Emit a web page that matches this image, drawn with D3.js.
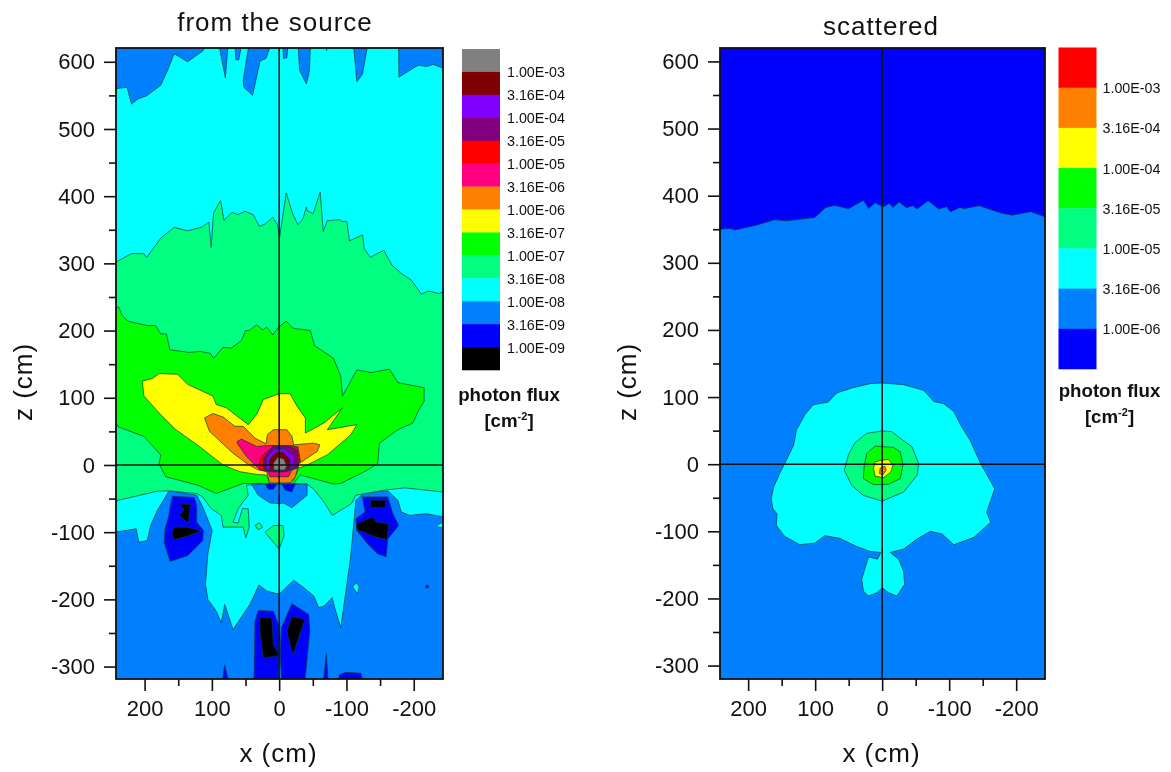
<!DOCTYPE html>
<html>
<head>
<meta charset="utf-8" />
<script src="https://d3js.org/d3.v7.min.js"></script>
<title>photon flux</title>
<style>
	html, body { margin: 0; padding: 0; background: #fff; }
	svg { display: block; filter: blur(0.5px); }
	text { font-family: "Liberation Sans", Arial, sans-serif; fill: #111; }
</style>
</head>
<body>
<div id="my_dataviz"></div>
<script>

// ticks
var xMajorTicks = [200, 100, 0, -100, -200];
var xMinorTicks = [150, 50, -50, -150];
var zMajorTicks = [600, 500, 400, 300, 200, 100, 0, -100, -200, -300];
var zMinorTicks = [550, 450, 350, 250, 150, 50, -50, -150, -250];

// legends, top to bottom
var sourceLegendColors = ["#808080", "#800000", "#8000ff", "#800080", "#ff0000", "#ff0080", "#ff8000", "#ffff00", "#00ff00", "#00ff80", "#00ffff", "#0080ff", "#0000ff", "#000000"];
var sourceLegendLabels = ["1.00E-03", "3.16E-04", "1.00E-04", "3.16E-05", "1.00E-05", "3.16E-06", "1.00E-06", "3.16E-07", "1.00E-07", "3.16E-08", "1.00E-08", "3.16E-09", "1.00E-09"];
var scatteredLegendColors = ["#ff0000", "#ff8000", "#ffff00", "#00ff00", "#00ff80", "#00ffff", "#0080ff", "#0000ff"];
var scatteredLegendLabels = ["1.00E-03", "3.16E-04", "1.00E-04", "3.16E-05", "1.00E-05", "3.16E-06", "1.00E-06"];

// contour outlines, [x, z] in cm
var sourceCyan = [[250,560],[243.5,560],[226,562],[219.5,537],[209.5,545],[197.5,549],[176,565],[166,587],[156,612],[136,600],[121,611],[114.5,615],[108.5,625],[89.5,625],[86,607],[80,576],[76,625],[65.5,625],[64.5,603],[60,603],[56,625],[45,625],[53.5,572],[52.5,562],[39.5,550],[28.5,601],[19.5,605],[12.5,625],[-5.5,625],[-6.5,605],[-11.5,606],[-13,625],[-28,625],[-30.5,587],[-40.5,567],[-45,587],[-46.5,625],[-69,625],[-70.5,617],[-72,625],[-110.5,625],[-115.5,570],[-124,582],[-131.5,625],[-177.5,625],[-178,577],[-206.5,595],[-219,593],[-229,596],[-245,590],[-250,590],
	[-250,-78.5],[-219,-72.5],[-194,-75],[-181.5,-70],[-176.5,-52.5],[-161.5,-38.5],[-126.5,-41.5],[-114,-52.5],[-109,-107.5],[-105.5,-142.5],[-91.5,-242.5],[-82.5,-212.5],[-79,-197.5],[-66.5,-210],[-59,-212.5],[-51.5,-195],[-36.5,-182.5],[-21.5,-171.5],[0,-192.5],[18.5,-187.5],[30,-178.5],[43.5,-207.5],[68.5,-245],[81,-207.5],[86,-235],[93.5,-217.5],[106,-200],[109.5,-177.5],[106,-132.5],[99.5,-97.5],[103.5,-87.5],[113.5,-62.5],[122.5,-45],[163.5,-38.5],[181,-67.5],[191,-90],[196,-112.5],[208.5,-115],[212.5,-95],[243.5,-100],[250,-100]];
var sourceCyanDot = [[-109,-181.5],[-115,-175],[-119,-181.5],[-116.5,-191.5]];
var sourceCyanEdge = [[-234,-90],[-250,-81.5],[-250,-95],[-236.5,-92.5]];
var sourceSpring = [[250,301],[243.5,301.5],[219.5,314.5],[201,314.5],[197,308.5],[176,337.5],[156,353.5],[136,348.5],[114.5,354],[104.5,361.5],[101,323.5],[97.5,375],[87,393.5],[82,364],[70,376],[61,372.5],[51,377.5],[38.5,372.5],[29.5,355],[21,358.5],[9.5,368.5],[2.5,357.5],[-0.5,337.5],[-10.5,405],[-20.5,372.5],[-28,357.5],[-35.5,366.5],[-40.5,384],[-41.5,378.5],[-50.5,374],[-61,406],[-65.5,347.5],[-71.5,363.5],[-90.5,365],[-92.5,362.5],[-100.5,362.5],[-104.5,333.5],[-124,342.5],[-126.5,321.5],[-135.5,309],[-155.5,319.5],[-167.5,297.5],[-181.5,285],[-196.5,275],[-211.5,254],[-221.5,259],[-237.5,255],[-250,261],
	[-250,-41],[-186.5,-34],[-156.5,-37.5],[-114,-45],[-107.5,-57.5],[-79,-75],[-66.5,-55],[-51.5,-36],[-41.5,-28.5],[0,-27.5],[48.5,-30],[46,-45],[61,-65],[68.5,-85],[61,-86.5],[54.5,-65],[46,-65],[44.5,-92.5],[49.5,-108.5],[53.5,-92.5],[83.5,-92.5],[86,-75],[101,-65],[113.5,-47.5],[122.5,-42.5],[163.5,-38.5],[181,-39],[243.5,-53.5],[250,-53.5]];
var sourceSpringIsland = [[36,-90],[29.5,-86],[24.5,-92.5],[31,-96.5]];
var sourceSpringLobe = [[21,-100],[8.5,-90],[-5.5,-90],[-7.5,-105],[0,-125],[8.5,-115]];
var sourceBlobLeft = [[158.5,-46.5],[126,-48.5],[122.5,-61.5],[122.5,-85],[112.5,-97.5],[113.5,-112.5],[136,-135],[162,-143.5],[171,-115],[169.5,-95],[164.5,-77.5],[161,-57.5]];
var sourceBlackLeftUp = [[147.5,-58.5],[132,-58.5],[135,-86.5],[148.5,-75],[141,-67.5]];
var sourceBlackLeftLow = [[156,-92.5],[136,-92.5],[116,-98.5],[133.5,-105],[156,-111.5],[159.5,-102.5]];
var sourceBlobRight = [[-124,-47.5],[-161.5,-47.5],[-169,-72.5],[-177.5,-90],[-161.5,-110],[-159,-136.5],[-146.5,-132.5],[-131.5,-117.5],[-115.5,-97.5],[-114,-80],[-127.5,-70]];
var sourceBlackRightUp = [[-135.5,-52.5],[-159,-52.5],[-157.5,-63.5],[-136.5,-63.5]];
var sourceBlackRightLow = [[-115.5,-87.5],[-139,-77.5],[-144,-85],[-163,-87.5],[-160.5,-111],[-144,-107.5],[-126.5,-100],[-115.5,-96.5]];
var sourceFootLeft = [[31,-216.5],[8.5,-217.5],[1,-237.5],[0,-262.5],[1,-325],[37.5,-325],[36,-232.5]];
var sourceFootRight = [[-19,-206.5],[-44,-222.5],[-45.5,-247.5],[-38,-325],[-4,-325],[-1.5,-282.5],[-3,-242.5]];
var sourceFootBlackLeft = [[28.5,-227.5],[11,-227.5],[8.5,-267.5],[0,-283.5],[23.5,-287.5],[28.5,-247.5]];
var sourceFootBlackRight = [[-19,-225],[-38,-230],[-20.5,-282.5],[-11.5,-247.5]];
var sourceSpikeA = [[81,-297.5],[85,-325],[74.5,-325]];
var sourceSpikeB = [[-70,-280],[-65.5,-325],[-73,-325]];
var sourceSpikeC = [[-89,-312.5],[-99,-308.5],[-121.5,-310],[-125,-325],[-89,-325]];
var sourceDot = [[-218,-179],[-222,-179],[-222,-183],[-218,-183]];
var sourceBat = [[41,-28.5],[-41.5,-28.5],[-41.5,-45],[-19,-63.5],[-6.5,-56.5],[0,-57.5],[13.5,-56.5],[31,-45]];
var sourceBatLeft = [[21,-28.5],[3.5,-28.5],[8.5,-36],[16,-36]];
var sourceBatRight = [[-4,-28.5],[-24,-28.5],[-19,-40],[-9,-37.5]];
var sourceGreen = [[250,235],[238.5,235],[233.5,222.5],[224.5,214],[196,207.5],[183.5,207.5],[176,195],[167.5,195],[162.5,171.5],[133.5,167.5],[117.5,169],[102,166],[97.5,158.5],[83.5,175],[71,174],[56,185],[50,200],[44.5,200],[33.5,208.5],[24.5,201],[18.5,205],[9.5,193.5],[1,205],[-10.5,214],[-20.5,203.5],[-46.5,200],[-52.5,177.5],[-80.5,159],[-91.5,132.5],[-94,102.5],[-115.5,141.5],[-136.5,137.5],[-164,142.5],[-176.5,122.5],[-215.5,115],[-215.5,95],[-206.5,80],[-199,62.5],[-176.5,52.5],[-149,32.5],[-146.5,2.5],[-131.5,-7.5],[-91.5,-27.5],[-81.5,-28.5],[-31.5,-15],[-21.5,-27.5],[21,-27.5],[53.5,-27.5],[93.5,-42.5],[121,-30],[168.5,-17.5],[178.5,1.5],[176,15],[201,42.5],[238.5,56.5],[242.5,62.5],[250,62.5]];
var sourceYellow = [[203.5,125],[188.5,128.5],[178.5,136],[151,135],[136,120],[98.5,102.5],[93.5,90],[78.5,85],[46,60],[33.5,75],[23.5,97.5],[0,106],[-16.5,106],[-26.5,87.5],[-39,70],[-39,47.5],[-66.5,62.5],[-94,85],[-71.5,52.5],[-115.5,60],[-106.5,45],[-71.5,15],[-41.5,0],[-29,-5],[-21.5,-22.5],[-11.5,-27.5],[13.5,-27.5],[18.5,-15],[33.5,-14],[58.5,-10],[83.5,0],[118.5,27.5],[153.5,52.5],[178.5,77.5],[201,102.5]];
var sourceOrange = [[111,70],[98.5,76.5],[83.5,71.5],[66,57.5],[53.5,57.5],[36,40],[19.5,31.5],[17.5,45],[8.5,52.5],[-11.5,52.5],[-19,42.5],[-21.5,30],[-51.5,32.5],[-60.5,30],[-56.5,20],[-34,5],[-29,1.5],[-24,-17.5],[-16.5,-26.5],[14.5,-26.5],[18.5,-10],[33.5,-6.5],[48.5,2.5],[68.5,17.5],[103.5,50]];
var sourcePink = [[62.5,35],[56,38.5],[33.5,27.5],[18.5,29],[-21.5,29],[-29,17.5],[-31.5,5],[-19,-7.5],[-14,-17.5],[13.5,-17.5],[18.5,-7.5],[31,-5],[48.5,12.5],[62.5,32.5]];
var sourceRed = [[29.5,-7.5],[28.5,10],[21,17.5],[8.5,27],[-11.5,27],[-28,27],[-31,5],[-22,-6],[-6,-10],[14,-10]];
var sourcePurple = [[23,-7.5],[23,10],[10,28],[-12,28.5],[-27,22],[-29,-4],[-10,-10],[10,-10]];
var sourceViolet = [[19,-7],[19,10],[7,24],[-8,24.5],[-21,13],[-22,-5],[-6,-8.5],[8,-8]];
var sourceMaroon = [[14,-7],[14.5,8],[5,19],[-6,19],[-16,8],[-16.5,-5],[-6,-8],[6,-8]];
var sourceGray = [[8,-7.5],[8.5,3],[2,11.5],[-7,9],[-11.5,-2],[-8,-7.5]];

var scatteredAzure = [[250,350],[243,350],[228,351],[219,349],[188,356],[160.5,364],[142,362.5],[100.5,367.5],[84,382.5],[70.5,385.5],[50.5,380.5],[28,393],[20,381],[10.5,389.5],[-2,383.5],[-11,388.5],[-16,382.5],[-25.5,390.5],[-36,382],[-45.5,385],[-52,380],[-68.5,392.5],[-84.5,380],[-96,383.5],[-102,376],[-116,382.5],[-122,380.5],[-144.5,385],[-179.5,373.5],[-194.5,371],[-222,376],[-250,366],[-250,-325],[250,-325]];
var scatteredCyan = [[0,121],[18,120],[45.5,113.5],[68,106],[80.5,92.5],[103,88.5],[115.5,73.5],[128,51],[132,28.5],[143,6],[153,-14],[162,-34],[165.5,-51.5],[163,-66.5],[157,-74],[158,-91.5],[145.5,-107.5],[123,-120],[100.5,-117.5],[85.5,-106.5],[63,-110.5],[40.5,-121.5],[18,-130],[2,-131.5],[7,-141.5],[20.5,-138],[30.5,-171.5],[28,-189],[20.5,-196.5],[8,-191.5],[0,-184],[-9.5,-191.5],[-22,-196.5],[-33.5,-179],[-32,-159],[-24.5,-141.5],[-12,-131.5],[-32,-126.5],[-52,-111.5],[-72,-100],[-89.5,-104],[-107,-120],[-137,-109],[-162,-86.5],[-156,-71.5],[-168,-36.5],[-147,1],[-131,36],[-117,58.5],[-107,78.5],[-92,90],[-77,93.5],[-62,110],[-32,118.5]];
var scatteredSpring = [[0,49.5],[23,46],[40.5,32],[50.5,13.5],[56.5,-9],[45.5,-31.5],[28,-46.5],[0,-55],[-32,-41.5],[-52,-16.5],[-54.5,1],[-44.5,26],[-27,38.5],[-14.5,48.5]];
var scatteredGreen = [[10.5,27],[23,16],[27,-4],[28,-21.5],[13,-30.5],[-9.5,-30],[-27,-21.5],[-31,-1.5],[-27,18.5],[-17,25]];
var scatteredYellow = [[10.5,3.5],[13,-6.5],[10.5,-18],[-2,-20],[-13,-11.5],[-16,-1.5],[-9.5,7],[0.5,6]];
var scatteredOrange = [[3,-6],[-4,-3],[-6,-9],[-1,-16],[4,-14]];

var azure = "#0080ff", blue = "#0000ff", cyan = "#00ffff", spring = "#00ff80", green = "#00ff00";
var yellow = "#ffff00", orange = "#ff8000", pink = "#ff0080", red = "#ff0000", black = "#000000";

// painted in order, outermost first
var sourceLayers = [
	[sourceCyan, cyan], [sourceCyanDot, cyan], [sourceCyanEdge, cyan],
	[sourceSpring, spring], [sourceSpringIsland, spring], [sourceSpringLobe, spring],
	[sourceBlobLeft, blue], [sourceBlackLeftUp, black], [sourceBlackLeftLow, black],
	[sourceBlobRight, blue], [sourceBlackRightUp, black], [sourceBlackRightLow, black],
	[sourceFootLeft, blue], [sourceFootRight, blue], [sourceFootBlackLeft, black], [sourceFootBlackRight, black],
	[sourceSpikeA, blue], [sourceSpikeB, blue], [sourceSpikeC, blue], [sourceDot, blue],
	[sourceBat, azure], [sourceBatLeft, blue], [sourceBatRight, blue],
	[sourceGreen, green], [sourceYellow, yellow], [sourceOrange, orange], [sourcePink, pink],
	[sourceRed, red], [sourcePurple, "#800080"], [sourceViolet, "#8000ff"], [sourceMaroon, "#800000"], [sourceGray, "#808080"]
];
var scatteredLayers = [
	[scatteredAzure, azure], [scatteredCyan, cyan], [scatteredSpring, spring],
	[scatteredGreen, green], [scatteredYellow, yellow], [scatteredOrange, orange]
];

var svg = d3.select("#my_dataviz")
	.append("svg")
	.attr("width", 1171)
	.attr("height", 772);

function drawPanel(id, opts) {
	var x = d3.scaleLinear().domain(opts.xDomain).range([opts.left, opts.right]);
	var z = d3.scaleLinear().domain(opts.zDomain).range([679, 48]);

	svg.append("clipPath").attr("id", id)
		.append("rect")
		.attr("x", opts.left).attr("y", 48)
		.attr("width", opts.right - opts.left).attr("height", 631);

	var plot = svg.append("g").attr("clip-path", "url(#" + id + ")");

	plot.append("rect")
		.attr("x", opts.left).attr("y", 48)
		.attr("width", opts.right - opts.left).attr("height", 631)
		.style("fill", opts.base);

	var line = d3.line().x(function (d) { return x(d[0]); }).y(function (d) { return z(d[1]); });

	plot.selectAll("path.level")
		.data(opts.layers)
		.enter()
		.append("path")
		.attr("class", "level")
		.attr("d", function (d) { return line(d[0]) + "Z"; })
		.style("fill", function (d) { return d[1]; })
		.style("stroke", "#063c3c")
		.style("stroke-width", 0.7);

	// cross through the origin
	plot.append("line").attr("x1", x(0)).attr("x2", x(0)).attr("y1", 48).attr("y2", 679)
		.style("stroke", "#111").style("stroke-width", 1.5);
	plot.append("line").attr("x1", opts.left).attr("x2", opts.right).attr("y1", z(0)).attr("y2", z(0))
		.style("stroke", "#111").style("stroke-width", 1.5);

	var bottom = svg.append("g").attr("transform", "translate(0,679)");
	bottom.call(d3.axisBottom(x).tickValues(xMajorTicks).tickSize(12).tickPadding(9).tickFormat(String));
	var bottomMinor = svg.append("g").attr("transform", "translate(0,679)");
	bottomMinor.call(d3.axisBottom(x).tickValues(xMinorTicks).tickSize(7).tickFormat(""));

	var leftAxis = svg.append("g").attr("transform", "translate(" + opts.left + ",0)");
	leftAxis.call(d3.axisLeft(z).tickValues(zMajorTicks).tickSize(12).tickPadding(9).tickFormat(String));
	var leftMinor = svg.append("g").attr("transform", "translate(" + opts.left + ",0)");
	leftMinor.call(d3.axisLeft(z).tickValues(zMinorTicks).tickSize(7).tickFormat(""));

	[bottom, bottomMinor, leftAxis, leftMinor].forEach(function (a) {
		a.select(".domain").remove();
		a.selectAll("line").style("stroke", "#111").style("stroke-width", 1.6);
		a.selectAll("text").style("font-size", "22px").style("font-family", null);
	});

	svg.append("rect")
		.attr("x", opts.left).attr("y", 48)
		.attr("width", opts.right - opts.left).attr("height", 631)
		.style("fill", "none").style("stroke", "#111").style("stroke-width", 1.8);

	svg.append("text").attr("x", opts.titleX).attr("y", opts.titleY)
		.style("text-anchor", "middle").style("font-size", "26px").style("letter-spacing", "1px")
		.text(opts.title);
	svg.append("text").attr("x", (opts.left + opts.right) / 2 - 1).attr("y", 762)
		.style("text-anchor", "middle").style("font-size", "26px").style("letter-spacing", "1px")
		.text("x (cm)");
	svg.append("text")
		.attr("transform", "translate(" + opts.zLabelX + ",382) rotate(-90)")
		.style("text-anchor", "middle").style("font-size", "26px").style("letter-spacing", "1px")
		.text("z (cm)");

	// legend
	var n = opts.legendColors.length;
	var band = d3.scaleBand().domain(d3.range(n)).range([opts.barTop, opts.barBottom]);

	svg.selectAll("rect.band" + id)
		.data(opts.legendColors)
		.enter()
		.append("rect")
		.attr("class", "band" + id)
		.attr("x", opts.barX).attr("width", 38)
		.attr("y", function (d, i) { return band(i); })
		.attr("height", band.bandwidth() + 0.3)
		.style("fill", function (d) { return d; });

	svg.selectAll("text.lab" + id)
		.data(opts.legendLabels)
		.enter()
		.append("text")
		.attr("class", "lab" + id)
		.attr("x", opts.labelX)
		.attr("y", function (d, i) { return band(i + 1) + 5.5; })
		.style("font-size", "14.3px")
		.text(function (d) { return d; });

	svg.append("text").attr("x", opts.fluxX).attr("y", opts.fluxY)
		.style("text-anchor", "middle").style("font-size", "18.7px").style("font-weight", "bold").style("fill", "#111")
		.text("photon flux");
	var unit = svg.append("text").attr("x", opts.fluxX).attr("y", opts.fluxY + 26)
		.style("text-anchor", "middle").style("font-size", "18.7px").style("font-weight", "bold");
	unit.append("tspan").text("[cm");
	unit.append("tspan").attr("dy", -7).style("font-size", "11px").text("-2");
	unit.append("tspan").attr("dy", 7).text("]");
}

drawPanel("source", {
	left: 116, right: 443, xDomain: [242.5, -243.5], zDomain: [-318.5, 620.5],
	base: azure, layers: sourceLayers,
	title: "from the source", titleX: 275, titleY: 31, zLabelX: 32,
	legendColors: sourceLegendColors, legendLabels: sourceLegendLabels,
	barX: 462, barTop: 49, barBottom: 370, labelX: 507, fluxX: 509, fluxY: 401
});

drawPanel("scattered", {
	left: 720, right: 1045, xDomain: [242, -243], zDomain: [-320, 620],
	base: blue, layers: scatteredLayers,
	title: "scattered", titleX: 881, titleY: 35, zLabelX: 636,
	legendColors: scatteredLegendColors, legendLabels: scatteredLegendLabels,
	barX: 1058.5, barTop: 47.5, barBottom: 369, labelX: 1102.5, fluxX: 1109.5, fluxY: 397
});

</script>
</body>
</html>
